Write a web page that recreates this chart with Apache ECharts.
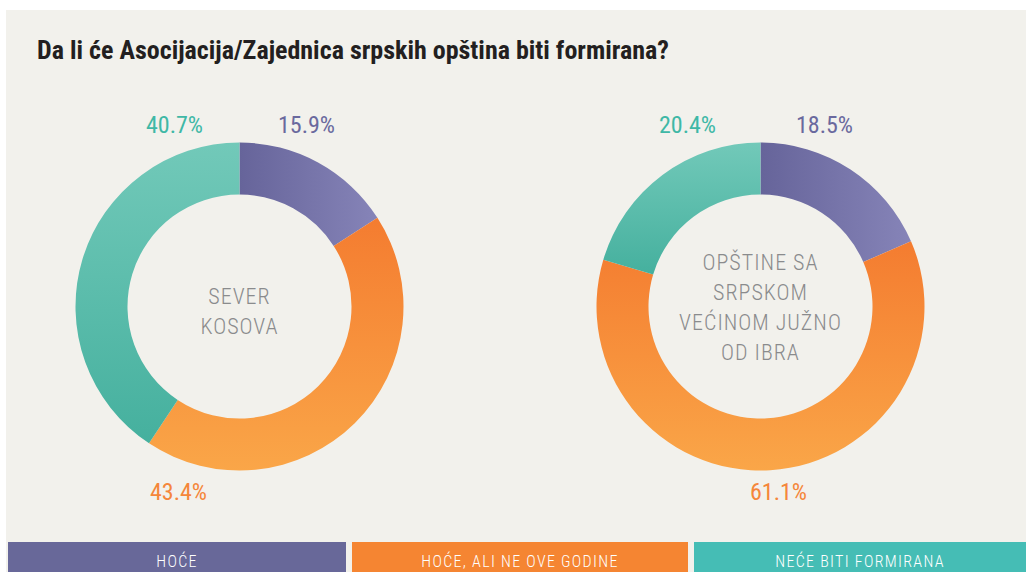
<!DOCTYPE html>
<html>
<head>
<meta charset="utf-8">
<script src="https://cdn.jsdelivr.net/npm/echarts@6/dist/echarts.min.js"></script>
<style>
  html, body { margin: 0; padding: 0; background: #ffffff; }
  #chart { width: 1026px; height: 572px; }
  /* razmak slova za tekst u sredini i legendu */
  #chart text[fill="#8a8b8d"] { letter-spacing: 1px; }
  #chart text[fill="#fff"] { letter-spacing: 1.3px; }
</style>
</head>
<body>
<div id="chart"></div>
<script>
// kategorije i vrijednosti (%)
var categories = ['HOĆE', 'HOĆE, ALI NE OVE GODINE', 'NEĆE BITI FORMIRANA'];
var severKosova = [15.9, 43.4, 40.7];
var juznoOdIbra = [18.5, 61.1, 20.4];
var centerLabels = ['SEVER\nKOSOVA', 'OPŠTINE SA\nSRPSKOM\nVEĆINOM JUŽNO\nOD IBRA'];
var titleText = 'Da li će Asocijacija/Zajednica srpskih opština biti formirana?';

window.onload = function () {

    var chartDom = document.getElementById('chart');
    var myChart = echarts.init(chartDom, null, { renderer: 'svg' });
    var option;

    var cond = '"Roboto Condensed", "DejaVu Sans Condensed", sans-serif';
    var labelColors = ['#6a699e', '#f5863a', '#3fb8a6'];
    var legendColors = ['#686899', '#f58532', '#45bdb5'];

    function sliceColors() {
        return [
            new echarts.graphic.LinearGradient(0, 0, 1, 0, [
                { offset: 0, color: '#66649a' },
                { offset: 1, color: '#8684b8' }
            ]),
            new echarts.graphic.LinearGradient(0, 0, 0, 1, [
                { offset: 0, color: '#f47c30' },
                { offset: 1, color: '#faa648' }
            ]),
            new echarts.graphic.LinearGradient(0, 0, 0, 1, [
                { offset: 0, color: '#72c9b9' },
                { offset: 1, color: '#45b09e' }
            ])
        ];
    }

    // gdje stoje procenti u odnosu na centar krofne
    var labelSpots = [
        [[67, -182], [-61, 185], [-65, -182]],
        [[64, -182], [18, 185], [-73, -182]]
    ];
    var centers = [[239.5, 306.5], [760.5, 306.5]];
    var centerTextY = [311, 307.5];

    function buildSeries(values, idx) {
        var colors = sliceColors();
        return {
            type: 'pie',
            center: centers[idx],
            radius: [112, 164],
            startAngle: 90,
            clockwise: true,
            silent: true,
            label: {
                show: true,
                position: 'inside',
                formatter: '{c}%',
                fontFamily: cond,
                fontSize: 24,
                overflow: 'none'
            },
            labelLine: { show: false },
            labelLayout: function (params) {
                var spot = labelSpots[idx][params.dataIndex];
                return {
                    x: centers[idx][0] + spot[0],
                    y: centers[idx][1] + spot[1],
                    align: 'center',
                    verticalAlign: 'middle'
                };
            },
            emphasis: { disabled: true },
            data: values.map(function (v, i) {
                return {
                    name: categories[i],
                    value: v,
                    itemStyle: { color: colors[i] },
                    label: { color: labelColors[i] }
                };
            })
        };
    }

    var graphics = [
        { type: 'rect', shape: { x: 6, y: 10, width: 1020, height: 562 }, style: { fill: '#f2f1ec' }, z: -10 },
        {
            type: 'text', x: 37, y: 50,
            style: {
                text: titleText, fill: '#231f20',
                font: 'bold 26px ' + cond,
                textVerticalAlign: 'middle'
            }
        }
    ];
    centerLabels.forEach(function (t, i) {
        graphics.push({
            type: 'text', x: centers[i][0], y: centerTextY[i],
            style: {
                text: t, fill: '#8a8b8d',
                font: '300 22px ' + cond,
                lineHeight: 30,
                textAlign: 'center',
                textVerticalAlign: 'middle'
            }
        });
    });
    var legendBoxes = [[8, 338], [352, 336], [694, 332]];
    categories.forEach(function (c, i) {
        graphics.push({
            type: 'rect',
            shape: { x: legendBoxes[i][0], y: 542, width: legendBoxes[i][1], height: 30 },
            style: { fill: legendColors[i] }
        });
        graphics.push({
            type: 'text',
            x: legendBoxes[i][0] + legendBoxes[i][1] / 2, y: 561,
            style: {
                text: c, fill: '#fff',
                font: '300 16px ' + cond,
                textAlign: 'center',
                textVerticalAlign: 'middle'
            }
        });
    });

    option = {
        backgroundColor: '#ffffff',
        animation: false,
        graphic: graphics,
        series: [
            buildSeries(severKosova, 0),
            buildSeries(juznoOdIbra, 1)
        ]
    };

    option && myChart.setOption(option);

    window.addEventListener('resize', function() {
        myChart.resize();
    });

}
</script>
</body>
</html>
